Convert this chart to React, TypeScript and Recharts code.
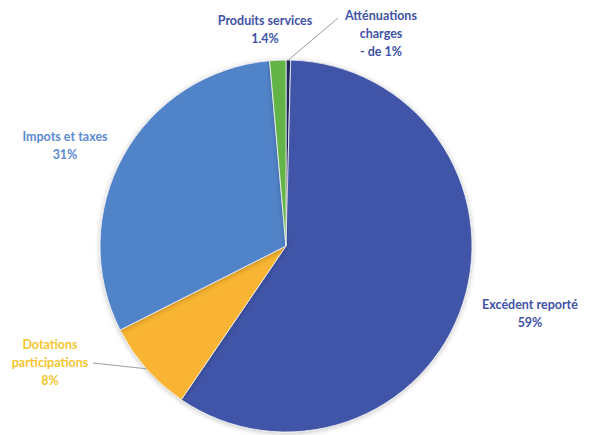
import React from "react";
import { PieChart, Pie, Cell } from "recharts";

const categories = [
  "Atténuations charges",
  "Excédent reporté",
  "Dotations participations",
  "Impots et taxes",
  "Produits services",
];
const values = [0.4, 59, 8, 31, 1.4];
const labelLines = [
  ["Atténuations", "charges", "- de 1%"],
  ["Excédent reporté", "59%"],
  ["Dotations", "participations", "8%"],
  ["Impots et taxes", "31%"],
  ["Produits services", "1.4%"],
];

const sliceColors = ["#1f2b63", "#4054a8", "#f8b433", "#5183c8", "#62b447"];
const textColors = ["#4152a6", "#4152a6", "#f6c530", "#5b8bd0", "#4152a6"];
// label block centre offsets from pie centre, and leader line targets
const labelOffsets = [
  { dx: 95, dy: -213, leader: [52, -228] },
  { dx: 244, dy: 67, leader: null },
  { dx: -236, dy: 116, leader: [-193, 117] },
  { dx: -221, dy: -101, leader: null },
  { dx: -21, dy: -217, leader: null },
];

const data = categories.map((name, i) => ({ name, value: values[i] }));

const RADIAN = Math.PI / 180;
const LINE_H = 18;

const renderLabel = (props: any) => {
  const { cx, cy, midAngle, outerRadius, index } = props;
  const off = labelOffsets[index];
  const lines = labelLines[index];
  const x = cx + off.dx;
  const yc = cy + off.dy;
  const y0 = yc - ((lines.length - 1) * LINE_H) / 2;
  let leader = null;
  if (off.leader) {
    const sx = cx + outerRadius * Math.cos(-midAngle * RADIAN);
    const sy = cy + outerRadius * Math.sin(-midAngle * RADIAN);
    leader = (
      <line
        x1={sx}
        y1={sy}
        x2={cx + off.leader[0]}
        y2={cy + off.leader[1]}
        stroke="#9aa0a8"
        strokeWidth={1}
      />
    );
  }
  return (
    <g key={`lbl-${index}`}>
      {leader}
      <text
        x={x}
        y={y0}
        textAnchor="middle"
        dominantBaseline="central"
        fill={textColors[index]}
        fontFamily="Lato, 'Open Sans', sans-serif"
        fontWeight={700}
        fontSize={12.5}
      >
        {lines.map((l, i) => (
          <tspan key={i} x={x} y={y0 + i * LINE_H} dominantBaseline="central">
            {l}
          </tspan>
        ))}
      </text>
    </g>
  );
};

export default function App() {
  return (
    <div style={{ position: "absolute", left: 0, top: 0, width: 591, height: 435, background: "#fff" }}>
      <PieChart width={591} height={435} margin={{ top: 0, right: 0, bottom: 0, left: 0 }}>
        <defs>
          <filter id="pieShadow" x="-10%" y="-10%" width="120%" height="120%">
            <feDropShadow dx="0" dy="1" stdDeviation="2.5" floodColor="#000" floodOpacity="0.25" />
          </filter>
        </defs>
        <Pie
          data={data}
          dataKey="value"
          nameKey="name"
          cx={286}
          cy={246}
          outerRadius={186}
          startAngle={90}
          endAngle={-270}
          stroke="#f4f4f4"
          strokeWidth={0.8}
          label={renderLabel}
          labelLine={false}
          isAnimationActive={false}
          style={{ filter: "url(#pieShadow)" }}
        >
          {data.map((d, i) => (
            <Cell key={d.name} fill={sliceColors[i]} />
          ))}
        </Pie>
      </PieChart>
    </div>
  );
}
